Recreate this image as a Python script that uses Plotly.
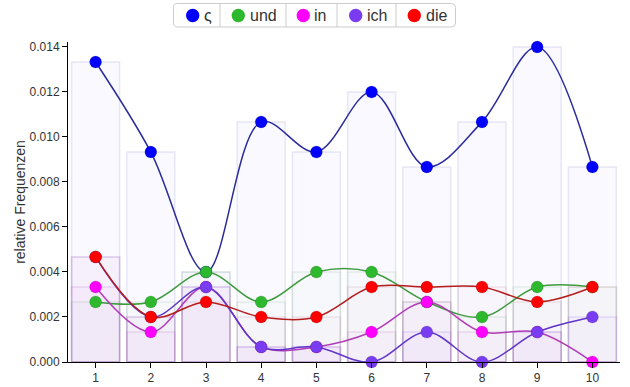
import plotly.graph_objects as go

categories = [1, 2, 3, 4, 5, 6, 7, 8, 9, 10]
series_names = ["ς", "und", "in", "ich", "die"]
vals_sigma = [0.01333, 0.00933, 0.00400, 0.01067, 0.00933, 0.01200, 0.00867, 0.01067, 0.01400, 0.00867]
vals_und = [0.00267, 0.00267, 0.00400, 0.00267, 0.00400, 0.00400, 0.00267, 0.00200, 0.00333, 0.00333]
vals_in = [0.00333, 0.00133, 0.00333, 0.00067, 0.00067, 0.00133, 0.00267, 0.00133, 0.00133, 0.00000]
vals_ich = [0.00467, 0.00200, 0.00333, 0.00067, 0.00067, 0.00000, 0.00133, 0.00000, 0.00133, 0.00200]
vals_die = [0.00467, 0.00200, 0.00267, 0.00200, 0.00200, 0.00333, 0.00333, 0.00333, 0.00267, 0.00333]
y_ticks = [0.000, 0.002, 0.004, 0.006, 0.008, 0.010, 0.012, 0.014]

all_vals = [vals_sigma, vals_und, vals_in, vals_ich, vals_die]
marker_colors = ["#0000ff", "#2db82d", "#ff00ff", "#7a3cf0", "#ff0000"]
line_colors = ["#2b2b9c", "#3d9a3d", "#b03cb8", "#6035c8", "#b51c1c"]
bar_fill = ["rgba(0,0,255,0.022)", "rgba(45,184,45,0.015)", "rgba(200,0,200,0.025)",
            "rgba(122,60,240,0.025)", "rgba(200,0,60,0.015)"]
bar_line = ["rgba(100,100,200,0.14)", "rgba(45,140,45,0.10)", "rgba(180,60,180,0.14)",
            "rgba(122,60,240,0.14)", "rgba(180,40,80,0.10)"]

# plot area geometry (pixels) used for the hand-built legend
W, H = 630, 387
ML, MR, MT, MB = 68, 10, 42, 25
PW, PH = W - ML - MR, H - MT - MB


def px(x):
    return (x - ML) / PW


def py(y):
    return (H - MB - y) / PH


fig = go.Figure()
for name, v, fc, lc in zip(series_names, all_vals, bar_fill, bar_line):
    fig.add_trace(go.Bar(x=categories, y=v, width=0.87, name=name,
                         marker=dict(color=fc, line=dict(color=lc, width=1.5)),
                         showlegend=False, hoverinfo="skip"))
for name, v, mc, lc in zip(series_names, all_vals, marker_colors, line_colors):
    fig.add_trace(go.Scatter(x=categories, y=v, mode="lines+markers", name=name,
                             line=dict(color=lc, width=1.5, shape="spline", smoothing=1),
                             marker=dict(color=mc, size=12, line=dict(color="rgba(0,0,0,0.25)", width=0.5)),
                             cliponaxis=False, showlegend=False))

# legend (boxed, with separators), as in the reference
box_l, box_r, box_t, box_b = 173.5, 455.5, 3.5, 27
seps = [220, 286, 337, 396]
mk_x = [192.7, 238.3, 303.3, 355.7, 414.3]
tx_x = [202.5, 249, 313, 366, 424.5]
mid_y = 15.5
shapes = []
r = 4
path = (f"M {box_l + r},{box_t} L {box_r - r},{box_t} Q {box_r},{box_t} {box_r},{box_t + r} "
        f"L {box_r},{box_b - r} Q {box_r},{box_b} {box_r - r},{box_b} L {box_l + r},{box_b} "
        f"Q {box_l},{box_b} {box_l},{box_b - r} L {box_l},{box_t + r} Q {box_l},{box_t} {box_l + r},{box_t} Z")


def conv_path(p):
    out = []
    for t in p.split():
        if "," in t:
            a, b = t.split(",")
            out.append(f"{px(float(a)):.5f},{py(float(b)):.5f}")
        else:
            out.append(t)
    return " ".join(out)


shapes.append(dict(type="path", xref="paper", yref="paper", path=conv_path(path),
                   line=dict(color="#cccccc", width=1), fillcolor="white", layer="above"))
for s in seps:
    shapes.append(dict(type="line", xref="paper", yref="paper", x0=px(s), x1=px(s),
                       y0=py(box_t), y1=py(box_b), line=dict(color="#cccccc", width=1), layer="above"))
annotations = []
for name, mc, mx, tx in zip(series_names, marker_colors, mk_x, tx_x):
    shapes.append(dict(type="circle", xref="paper", yref="paper", xsizemode="pixel", ysizemode="pixel",
                       xanchor=px(mx), yanchor=py(mid_y), x0=-6.7, x1=6.7, y0=-6.7, y1=6.7,
                       fillcolor=mc, line=dict(width=0), layer="above"))
    annotations.append(dict(text=name, xref="paper", yref="paper", x=px(tx), y=py(mid_y + 0.5),
                            xanchor="left", yanchor="middle", showarrow=False,
                            font=dict(size=16, color="#333333"), borderpad=0))

fig.update_layout(
    width=W, height=H,
    margin=dict(l=ML, r=MR, t=MT, b=MB, autoexpand=False),
    paper_bgcolor="white", plot_bgcolor="white",
    barmode="overlay",
    font=dict(family="Arial", color="#333333", size=12),
    showlegend=False,
    shapes=shapes,
    annotations=annotations,
    xaxis=dict(range=[0.5, 10.5], tickmode="array", tickvals=categories, automargin=False,
               showgrid=False, zeroline=False, showline=True, linecolor="black", linewidth=1,
               ticks="outside", ticklen=5, tickcolor="black", tickfont=dict(size=12)),
    yaxis=dict(range=[0, 0.01422], tickmode="array", tickvals=y_ticks, automargin=False,
               ticktext=[f"{t:.3f}" for t in y_ticks],
               showgrid=False, zeroline=False, showline=True, linecolor="black", linewidth=1,
               ticks="outside", ticklen=5, tickcolor="black", tickfont=dict(size=12),
               title=dict(text="relative Frequenzen", font=dict(size=14), standoff=0)),
)
fig.write_html("out.html", config={"displayModeBar": False},
               post_script="document.body.style.margin='0';")
